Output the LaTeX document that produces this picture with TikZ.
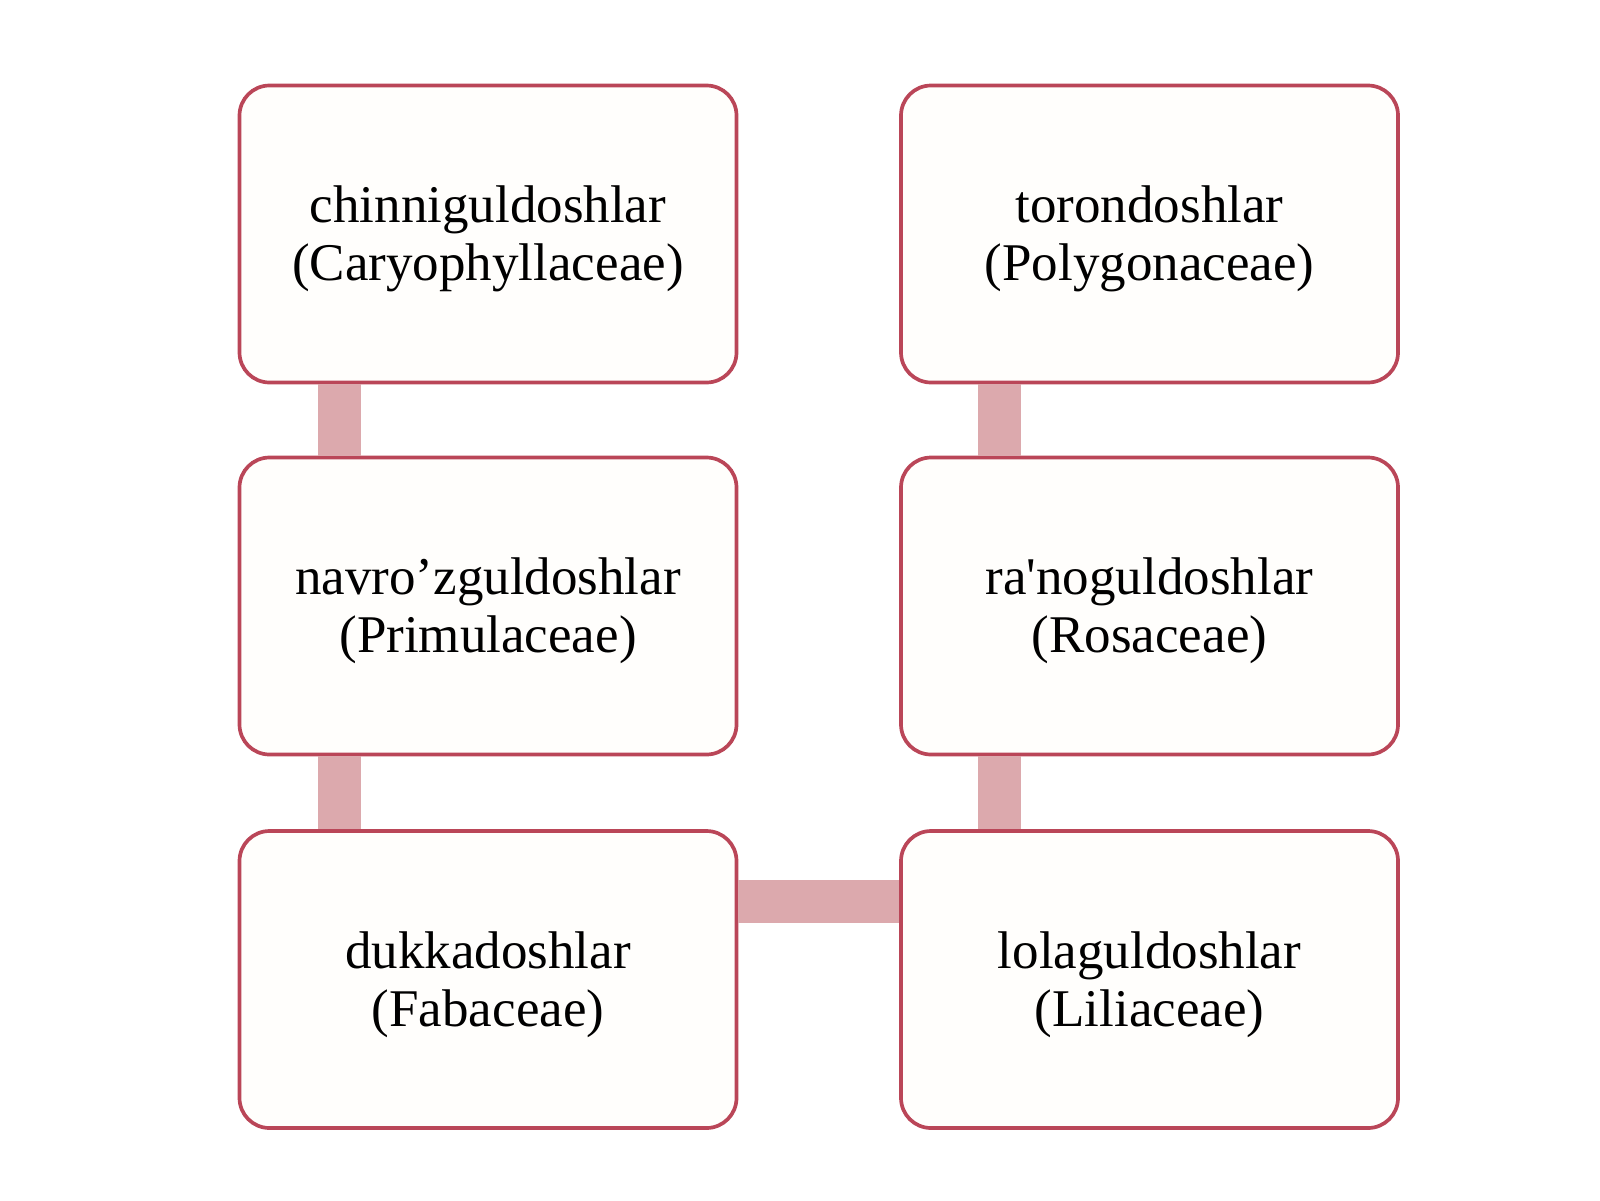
\documentclass[tikz,border=0pt]{standalone}
\usepackage{fontspec}
\setmainfont{Liberation Serif}[Ligatures=TeXOff]
\usetikzlibrary{calc}
\definecolor{boxborder}{HTML}{BA4658}
\definecolor{boxfill}{HTML}{FFFEFC}
\definecolor{connfill}{HTML}{DCA9AD}
\tikzset{
  famliybox/.style={draw=boxborder, fill=boxfill, line width=3.7pt, rounded corners=30pt,
    minimum width=497pt, minimum height=297pt, inner sep=0pt},
  boxtext/.style={align=center, inner sep=0pt, font=\fontsize{53}{58}\selectfont},
  conn/.style={draw=connfill, line width=43pt}
}
\begin{document}
\begin{tikzpicture}[x=1pt,y=-1pt]
\useasboundingbox (0,0) rectangle (1600,1200);
\node[famliybox] (a) at (488,234) {};
\node[famliybox] (b) at (1149.5,234) {};
\node[famliybox] (c) at (488,606) {};
\node[famliybox] (d) at (1149.5,606) {};
\node[famliybox] (e) at (488,979.5) {};
\node[famliybox] (f) at (1149.5,979.5) {};
\node[boxtext] (at) at ($(a)+(0,5)$) {chinniguldoshlar\\(Caryophyllaceae)};
\node[boxtext] (bt) at ($(b)+(0,5)$) {torondoshlar\\(Polygonaceae)};
\node[boxtext] (ct) at ($(c)+(0,5)$) {navro’zguldoshlar\\(Primulaceae)};
\node[boxtext] (dt) at ($(d)+(0,5)$) {ra'noguldoshlar\\(Rosaceae)};
\node[boxtext] (et) at ($(e)+(0,5)$) {dukkadoshlar\\(Fabaceae)};
\node[boxtext] (ft) at ($(f)+(0,5)$) {lolaguldoshlar\\(Liliaceae)};
\draw[conn] ($(a.south west)+(102,0)$) -- ($(c.north west)+(102,0)$);
\draw[conn] ($(c.south west)+(102,0)$) -- ($(e.north west)+(102,0)$);
\draw[conn] ($(b.south west)+(100,0)$) -- ($(d.north west)+(100,0)$);
\draw[conn] ($(d.south west)+(100,0)$) -- ($(f.north west)+(100,0)$);
\draw[conn] ($(e.north east)+(0,72)$) -- ($(f.north west)+(0,72)$);
\end{tikzpicture}
\end{document}
